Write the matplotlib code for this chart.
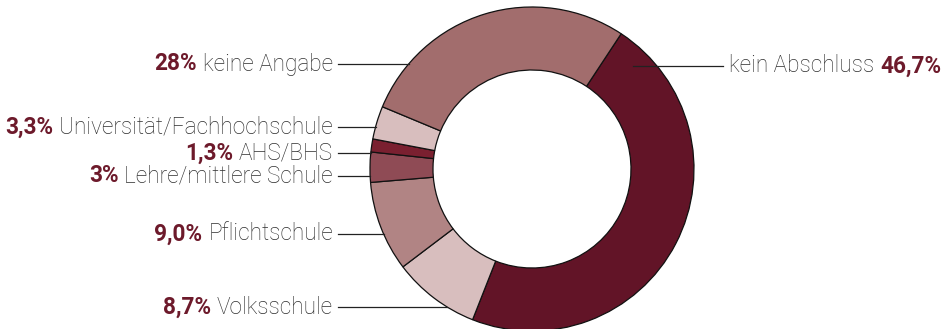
import matplotlib
matplotlib.use("Agg")
import matplotlib.pyplot as plt
import numpy as np

# Bildungsabschluss, Anteile in Prozent (im Uhrzeigersinn ab "kein Abschluss")
categories = ["kein Abschluss", "Volksschule", "Pflichtschule",
              "Lehre/mittlere Schule", "AHS/BHS",
              "Universität/Fachhochschule", "keine Angabe"]
shares = [46.7, 8.7, 9.0, 3.0, 1.3, 3.3, 28.0]
share_labels = ["46,7%", "8,7%", "9,0%", "3%", "1,3%", "3,3%", "28%"]
colors = ["#621427", "#d8bebe", "#b18484", "#8f4b55",
          "#7a2030", "#d8bebe", "#a26d6d"]

# Lage der Beschriftungen (Pixel von oben) und Seite
label_y = [66, 307, 234, 176, 153, 127, 64]
label_side = ["right", "left", "left", "left", "left", "left", "left"]

W, H = 946, 329
cx, cy, r, ring = 532, H - 169, 162, 63

plt.rcParams["font.family"] = ["Roboto", "DejaVu Sans"]
fig = plt.figure(figsize=(W / 100, H / 100), dpi=100)
ax = fig.add_axes([0, 0, 1, 1])

ax.pie(shares, colors=colors, startangle=56.6, counterclock=False,
       center=(cx, cy), radius=r, frame=True,
       wedgeprops=dict(width=ring, edgecolor="#111111", linewidth=0.9))
ax.set_xlim(0, W)
ax.set_ylim(0, H)
ax.set_aspect("equal")
ax.axis("off")

fs = 16.3
text_col = "#2e2e2e"
pct_col = "#6d1a2b"
fig.canvas.draw()
rend = fig.canvas.get_renderer()

for name, pct, yy, side in zip(categories, share_labels, label_y, label_side):
    y = H - yy
    dx = np.sqrt(max(r ** 2 - (y - cy) ** 2, 0))
    if side == "left":
        x_edge = cx - dx
        ax.plot([338, x_edge], [y, y], color="#222222", lw=0.9, zorder=3)
        t = ax.text(333, y, name, ha="right", va="center", fontsize=fs,
                    color=text_col, fontweight="light")
        bb = t.get_window_extent(rend)
        ax.text(bb.x0 - 6, y, pct, ha="right", va="center", fontsize=fs,
                color=pct_col, fontweight="bold")
    else:
        x_edge = cx + dx - 24
        ax.plot([x_edge, 723], [y, y], color="#222222", lw=0.9, zorder=3)
        t = ax.text(729, y, name, ha="left", va="center", fontsize=fs,
                    color=text_col, fontweight="light")
        bb = t.get_window_extent(rend)
        ax.text(bb.x1 + 6, y, pct, ha="left", va="center", fontsize=fs,
                color=pct_col, fontweight="bold")

fig.savefig("out.png", dpi=100)
